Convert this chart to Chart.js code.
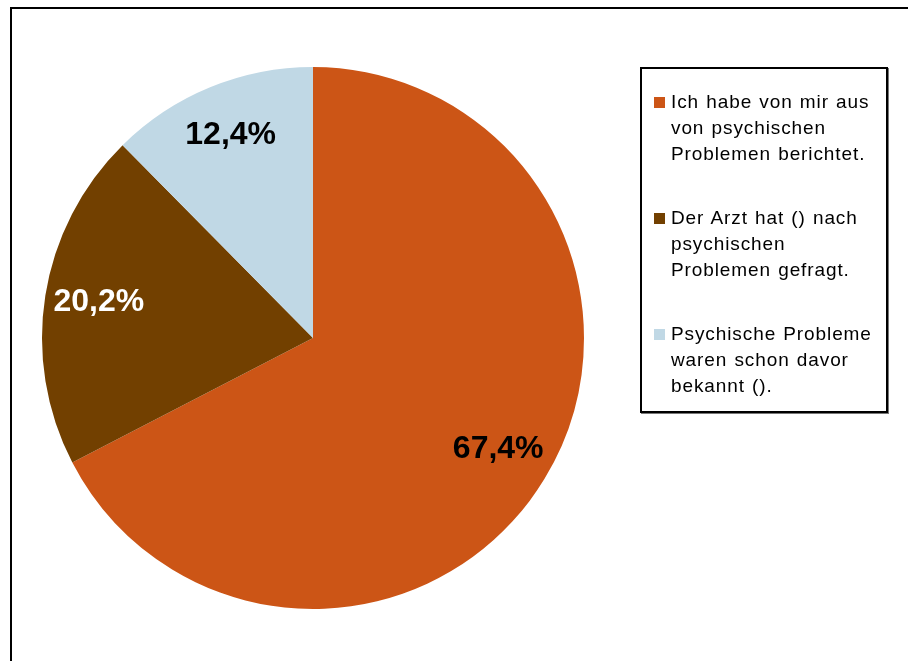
<!DOCTYPE html>
<html>
<head>
<meta charset="utf-8">
<script src="https://cdn.jsdelivr.net/npm/chart.js@4"></script>
<style>
  body { margin: 0; background: #fff; font-family: "Liberation Sans", Arial, sans-serif; }
  #wrap { position: relative; width: 908px; height: 661px; overflow: hidden; }
  #frame { position: absolute; left: 10px; top: 7px; width: 1000px; height: 1000px; border: 2px solid #000; }
  #chart { position: absolute; left: 0; top: 0; }
  #legende { position: absolute; left: 640px; top: 67px; width: 244px; height: 342px;
    border: 2px solid #000; box-shadow: 1px 1px 0 #777; background: #fff; box-sizing: content-box; }
  .eintrag { position: absolute; left: 29px; font-size: 19px; line-height: 26px; color: #000;
    letter-spacing: 0.9px; word-spacing: 1px; white-space: nowrap; }
  .eintrag span.box { position: absolute; left: -17px; top: 8px; width: 11px; height: 11px; }
</style>
</head>
<body>
<div id="wrap">
  <div id="frame"></div>
  <canvas id="chart" width="908" height="661"></canvas>
  <div id="legende"></div>
</div>
<script>
// Anteile (Prozent) der drei Antworten
var kategorien = [
  ['Ich habe von mir aus', 'von psychischen', 'Problemen berichtet.'],
  ['Der Arzt hat () nach', 'psychischen', 'Problemen gefragt.'],
  ['Psychische Probleme', 'waren schon davor', 'bekannt ().']
];
var anteile = [67.4, 20.2, 12.4];
var farben = ['#CC5516', '#724000', '#C0D8E5'];
var textFarben = ['#000', '#fff', '#000'];

// Prozentwerte in die Segmente schreiben
var labelPlugin = {
  id: 'prozentLabels',
  afterDatasetsDraw: function (chart) {
    var ctx = chart.ctx;
    var meta = chart.getDatasetMeta(0);
    ctx.save();
    ctx.font = 'bold 32px "Liberation Sans", Arial, sans-serif';
    ctx.textAlign = 'center';
    ctx.textBaseline = 'middle';
    meta.data.forEach(function (arc, i) {
      var p = arc.getProps(['x', 'y', 'startAngle', 'endAngle', 'outerRadius'], true);
      var mitte = (p.startAngle + p.endAngle) / 2;
      var r = p.outerRadius * 0.8;
      ctx.fillStyle = textFarben[i];
      ctx.fillText(anteile[i].toFixed(1).replace('.', ',') + '%',
        p.x + Math.cos(mitte) * r, p.y + Math.sin(mitte) * r - 2);
    });
    ctx.restore();
  }
};

var ctx = document.getElementById('chart').getContext('2d');
new Chart(ctx, {
  type: 'pie',
  data: {
    labels: kategorien.map(function (k) { return k.join(' '); }),
    datasets: [{
      data: anteile,
      backgroundColor: farben,
      borderWidth: 0
    }]
  },
  options: {
    responsive: false,
    animation: false,
    layout: { padding: { left: 42, top: 67, right: 324, bottom: 52 } },
    plugins: {
      legend: { display: false },
      tooltip: { enabled: false }
    }
  },
  plugins: [labelPlugin]
});

// Legende als HTML, damit der Text umbrechen kann
var legende = document.getElementById('legende');
var tops = [20, 136, 252];
kategorien.forEach(function (zeilen, i) {
  var d = document.createElement('div');
  d.className = 'eintrag';
  d.style.top = tops[i] + 'px';
  var box = document.createElement('span');
  box.className = 'box';
  box.style.background = farben[i];
  d.appendChild(box);
  d.innerHTML += zeilen.join('<br>');
  legende.appendChild(d);
});
</script>
</body>
</html>
